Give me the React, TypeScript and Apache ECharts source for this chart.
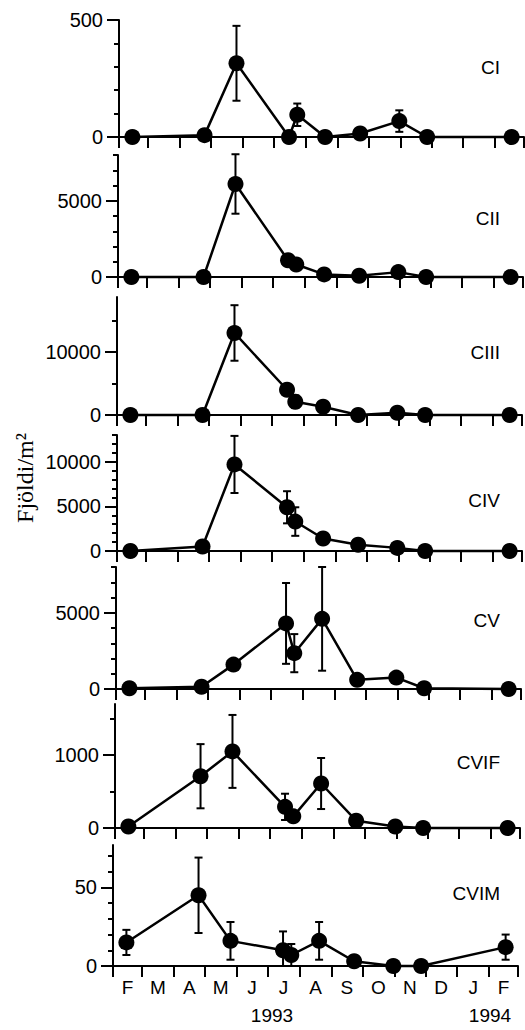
import React, { useEffect, useRef } from "react";
import * as echarts from "echarts";

// ---- data ----
const sampleDates = [
  "1993-02-14", "1993-04-25", "1993-05-26", "1993-07-16", "1993-07-24",
  "1993-08-20", "1993-09-23", "1993-10-31", "1993-11-27", "1994-02-17",
];
const panelNames = ["CI", "CII", "CIII", "CIV", "CV", "CVIF", "CVIM"];

const ciMean = [0, 8, 315, 0, 95, 0, 15, 68, 0, 0];
const ciErr = [0, 0, 160, 0, 48, 0, 0, 46, 0, 0];
const ciiMean = [0, 0, 6100, 1100, 820, 170, 80, 320, 0, 0];
const ciiErr = [0, 0, 1950, 0, 0, 0, 0, 0, 0, 0];
const ciiiMean = [0, 0, 13000, 4000, 2100, 1300, 0, 350, 0, 0];
const ciiiErr = [0, 0, 4400, 0, 1000, 800, 0, 0, 0, 0];
const civMean = [0, 500, 9700, 4900, 3300, 1400, 700, 350, 0, 0];
const civErr = [0, 0, 3200, 1800, 1600, 0, 0, 0, 0, 0];
const cvMean = [50, 150, 1600, 4300, 2350, 4600, 600, 750, 50, 0];
const cvErr = [0, 0, 350, 2650, 1250, 3400, 0, 0, 0, 0];
const cvifMean = [20, 710, 1050, 290, 160, 610, 100, 20, 0, 0];
const cvifErr = [0, 440, 500, 180, 0, 350, 50, 0, 0, 0];
const cvimMean = [15, 45, 16, 10, 7, 16, 3, 0, 0, 12];
const cvimErr = [8, 24, 12, 12, 7, 12, 1, 0, 0, 8];

const yMax = [500, 8000, 18700, 13000, 8000, 1700, 77];
const yTickStep = [100, 1000, 5000, 1000, 1000, 500, 10];
const yLabelValues = [[0, 500], [0, 5000], [0, 10000], [0, 5000, 10000], [0, 5000], [0, 1000], [0, 50]];
const monthLetters = ["F", "M", "A", "M", "J", "J", "A", "S", "O", "N", "D", "J", "F"];
const yearLabels = ["1993", "1994"];
const yAxisTitle = "Fjöldi/m²";

// ---- layout ----
const gridLeft = [119, 118, 117, 117, 116, 115, 113];
const gridTop = [20, 155, 297, 435, 567, 704, 845];
const gridHeight = [117, 122, 118, 116, 122, 124, 121];
const gridWidth = 405;
const panelLabelY = [67, 218, 352, 500, 620, 762, 893];

const DAY = 86400000;
const origin = Date.UTC(1993, 1, 1);
const toDay = (s: string) => {
  const [y, m, d] = s.split("-").map(Number);
  return (Date.UTC(y, m - 1, d) - origin) / DAY;
};
const monthStarts: number[] = [];
for (let i = 0; i <= 13; i++) monthStarts.push((Date.UTC(1993, 1 + i, 1) - origin) / DAY);
const monthMids = monthStarts.slice(0, 13).map((s, i) => (s + monthStarts[i + 1]) / 2);
const xMax = monthStarts[13];

const means = [ciMean, ciiMean, ciiiMean, civMean, cvMean, cvifMean, cvimMean];
const errs = [ciErr, ciiErr, ciiiErr, civErr, cvErr, cvifErr, cvimErr];

export default function App() {
  const ref = useRef<HTMLDivElement>(null);
  useEffect(() => {
    document.body.style.margin = "0";
    if (!ref.current) return;
    const chart = echarts.init(ref.current, undefined, { renderer: "svg" });
    const days = sampleDates.map(toDay);
    const font = "Liberation Sans, Arial, Helvetica, sans-serif";

    const grids: any[] = [];
    const xAxes: any[] = [];
    const yAxes: any[] = [];
    const series: any[] = [];
    const graphics: any[] = [];

    panelNames.forEach((name, i) => {
      grids.push({ left: gridLeft[i], top: gridTop[i], width: gridWidth, height: gridHeight[i] });
      const isLast = i === panelNames.length - 1;
      xAxes.push({
        type: "value",
        gridIndex: i,
        min: 0,
        max: xMax,
        axisLine: { show: true, onZero: false, lineStyle: { color: "#000", width: 2 } },
        axisTick: { show: true, customValues: monthStarts, length: 11, lineStyle: { color: "#000", width: 2 } },
        axisLabel: isLast
          ? {
              show: true,
              customValues: monthMids,
              margin: 12,
              fontSize: 19,
              color: "#000",
              fontFamily: font,
              formatter: (v: number) => {
                const idx = monthMids.findIndex((m) => Math.abs(m - v) < 0.01);
                return idx >= 0 ? monthLetters[idx] : "";
              },
            }
          : { show: false },
        splitLine: { show: false },
      });
      const ticks: number[] = [];
      for (let v = 0; v <= yMax[i] + 1e-9; v += yTickStep[i]) ticks.push(v);
      yAxes.push({
        type: "value",
        gridIndex: i,
        min: 0,
        max: yMax[i],
        position: "left",
        axisLine: { show: true, onZero: false, lineStyle: { color: "#000", width: 2 } },
        axisTick: { show: true, customValues: ticks, length: 5, lineStyle: { color: "#000", width: 2 } },
        axisLabel: { show: false },
        splitLine: { show: false },
      });
      yAxes.push({
        type: "value",
        gridIndex: i,
        min: 0,
        max: yMax[i],
        position: "left",
        axisLine: { show: false },
        axisTick: { show: true, customValues: yLabelValues[i], length: 12, lineStyle: { color: "#000", width: 2 } },
        axisLabel: {
          show: true,
          customValues: yLabelValues[i],
          margin: 16,
          fontSize: 20,
          color: "#000",
          fontFamily: font,
          formatter: (v: number) => String(v),
        },
        splitLine: { show: false },
      });

      const m = means[i];
      const e = errs[i];
      series.push({
        type: "line",
        xAxisIndex: i,
        yAxisIndex: 2 * i,
        data: days.map((d, k) => [d, m[k]]),
        symbol: "circle",
        symbolSize: 16,
        clip: false,
        itemStyle: { color: "#000" },
        lineStyle: { color: "#000", width: 2.5 },
        z: 5,
      });
      const errData = days
        .map((d, k) => [d, Math.max(0, m[k] - e[k]), m[k] + e[k], e[k]])
        .filter((r) => r[3] > 0);
      series.push({
        type: "custom",
        xAxisIndex: i,
        yAxisIndex: 2 * i,
        coordinateSystem: "cartesian2d",
        data: errData,
        encode: { x: 0, y: [1, 2] },
        clip: false,
        z: 4,
        renderItem: (_p: any, api: any) => {
          const x = api.value(0);
          const lo = api.coord([x, api.value(1)]);
          const hi = api.coord([x, api.value(2)]);
          const w = 4;
          const st = { stroke: "#000", lineWidth: 2 };
          return {
            type: "group",
            children: [
              { type: "line", shape: { x1: hi[0], y1: hi[1], x2: lo[0], y2: lo[1] }, style: st },
              { type: "line", shape: { x1: hi[0] - w, y1: hi[1], x2: hi[0] + w, y2: hi[1] }, style: st },
              { type: "line", shape: { x1: lo[0] - w, y1: lo[1], x2: lo[0] + w, y2: lo[1] }, style: st },
            ],
          };
        },
      });

      graphics.push({
        type: "text",
        x: 500,
        y: panelLabelY[i],
        style: { text: name, fontSize: 19, fontFamily: font, fill: "#000", textAlign: "right", textVerticalAlign: "middle" },
      });
    });

    graphics.push({
      type: "text",
      x: 272,
      y: 1015,
      style: { text: yearLabels[0], fontSize: 19, fontFamily: font, fill: "#000", textAlign: "center", textVerticalAlign: "middle" },
    });
    graphics.push({
      type: "text",
      x: 490,
      y: 1015,
      style: { text: yearLabels[1], fontSize: 19, fontFamily: font, fill: "#000", textAlign: "center", textVerticalAlign: "middle" },
    });
    graphics.push({
      type: "text",
      x: 25,
      y: 478,
      rotation: Math.PI / 2,
      style: {
        text: yAxisTitle,
        fontSize: 24,
        fontFamily: "Liberation Serif, Times New Roman, serif",
        fill: "#000",
        textAlign: "center",
        textVerticalAlign: "middle",
      },
    });

    chart.setOption({
      animation: false,
      backgroundColor: "#fff",
      textStyle: { fontFamily: font },
      grid: grids,
      xAxis: xAxes,
      yAxis: yAxes,
      series,
      graphic: graphics,
    });
    return () => chart.dispose();
  }, []);
  return <div ref={ref} style={{ width: 525, height: 1030 }} />;
}
